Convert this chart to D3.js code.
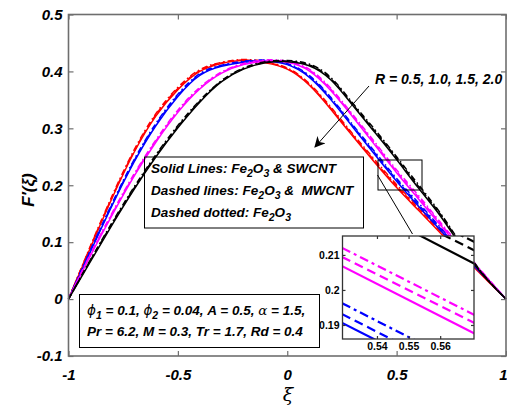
<!DOCTYPE html>
<html><head><meta charset="utf-8">
<script src="https://cdn.jsdelivr.net/npm/d3@7"></script>
<style>
body{margin:0;background:#fff}
svg{display:block}
text{font-family:"Liberation Sans",Arial,sans-serif;white-space:pre}
</style>
</head><body>
<svg id="c" width="507" height="408"></svg>
<script>
// ---------- data ----------
const xi = [-1,-0.9,-0.8,-0.7,-0.6,-0.5,-0.4,-0.3,-0.2,-0.1,0,0.1,0.2,0.3,0.4,0.5,0.6,0.7,0.8,0.9,1];

const redSolid   = [0,0.090,0.178,0.258,0.322,0.368,0.400,0.414,0.419,0.415,0.404,0.376,0.333,0.286,0.240,0.196,0.156,0.116,0.077,0.038,0];
const redDashed  = [0,0.092,0.180,0.260,0.324,0.370,0.4015,0.415,0.420,0.416,0.405,0.3775,0.335,0.288,0.2425,0.1985,0.159,0.119,0.079,0.039,0];
const redDashDot = [0,0.093,0.182,0.262,0.326,0.372,0.403,0.416,0.421,0.417,0.406,0.379,0.337,0.290,0.245,0.201,0.162,0.121,0.081,0.040,0];

const blueSolid   = [0,0.083,0.165,0.241,0.305,0.356,0.393,0.409,0.416,0.418,0.412,0.390,0.350,0.302,0.254,0.207,0.163,0.121,0.080,0.040,0];
const blueDashed  = [0,0.085,0.167,0.243,0.307,0.358,0.3945,0.410,0.417,0.419,0.413,0.3915,0.352,0.304,0.2565,0.2095,0.166,0.124,0.082,0.041,0];
const blueDashDot = [0,0.086,0.169,0.245,0.309,0.360,0.396,0.411,0.418,0.420,0.414,0.393,0.354,0.306,0.259,0.212,0.169,0.126,0.084,0.042,0];

const magSolid   = [0,0.076,0.148,0.216,0.276,0.328,0.369,0.397,0.412,0.418,0.416,0.401,0.366,0.320,0.271,0.222,0.176,0.130,0.085,0.042,0];
const magDashed  = [0,0.078,0.150,0.218,0.278,0.330,0.3705,0.398,0.413,0.419,0.417,0.4025,0.368,0.322,0.2735,0.2245,0.179,0.133,0.087,0.043,0];
const magDashDot = [0,0.079,0.152,0.220,0.280,0.332,0.372,0.399,0.414,0.420,0.418,0.404,0.370,0.324,0.276,0.227,0.182,0.135,0.089,0.044,0];

const blackSolid   = [0,0.066,0.131,0.193,0.250,0.301,0.346,0.382,0.404,0.415,0.417,0.410,0.385,0.340,0.293,0.245,0.195,0.146,0.090,0.040,0];
const blackDashed  = [0,0.068,0.133,0.195,0.252,0.303,0.3475,0.383,0.405,0.416,0.418,0.4115,0.387,0.342,0.2955,0.2475,0.198,0.149,0.092,0.041,0];
const blackDashDot = [0,0.069,0.135,0.197,0.254,0.305,0.349,0.384,0.406,0.417,0.419,0.413,0.389,0.344,0.298,0.250,0.201,0.151,0.094,0.042,0];

const xTicks = [-1,-0.5,0,0.5,1];
const yTicks = [-0.1,0,0.1,0.2,0.3,0.4,0.5];

// inset (zoom) data
const insetXi = [0.529,0.571];
const insetMagSolid   = [0.2068,0.1875];
const insetMagDashed  = [0.2094,0.1905];
const insetMagDashDot = [0.2120,0.1928];
const insetBlueSolid   = [0.1906,0.1713];
const insetBlueDashed  = [0.1931,0.1738];
const insetBlueDashDot = [0.1962,0.1769];
const insetBlackSolid   = [0.2270,0.2074];
const insetBlackDashed  = [0.2300,0.2112];
const insetBlackDashDot = [0.2328,0.2136];
const insetXTicks = [0.54,0.55,0.56];
const insetYTicks = [0.19,0.2,0.21];

// ---------- drawing ----------
const svg = d3.select("#c");
const L=68.5, R=506, T=14.5, B=356;
const x = d3.scaleLinear().domain([-1,1]).range([L,R]);
const y = d3.scaleLinear().domain([-0.1,0.5]).range([B,T]);
const fmt = d => String(d);

const dashes = {solid:null, dashed:"6,3", dashdot:"6,3,1.5,3"};
const mainSeries = [
  {c:"#ff0000", s:"dashdot", v:redDashDot},{c:"#ff0000", s:"dashed", v:redDashed},{c:"#ff0000", s:"solid", v:redSolid},
  {c:"#0000ff", s:"dashdot", v:blueDashDot},{c:"#0000ff", s:"dashed", v:blueDashed},{c:"#0000ff", s:"solid", v:blueSolid},
  {c:"#ff00ff", s:"dashdot", v:magDashDot},{c:"#ff00ff", s:"dashed", v:magDashed},{c:"#ff00ff", s:"solid", v:magSolid},
  {c:"#000000", s:"dashdot", v:blackDashDot},{c:"#000000", s:"dashed", v:blackDashed},{c:"#000000", s:"solid", v:blackSolid}
];
const line = d3.line().x(d=>x(d[0])).y(d=>y(d[1])).curve(d3.curveNatural);
const gCurves = svg.append("g");
mainSeries.forEach(s=>{
  gCurves.append("path").attr("d", line(xi.map((v,i)=>[v,s.v[i]])))
    .attr("fill","none").attr("stroke",s.c).attr("stroke-width",1.5)
    .attr("stroke-dasharray",dashes[s.s]);
});

// axes
const axisColor="#6e6e6e";
const fontTick = "bold italic 15px 'Liberation Sans', Arial, sans-serif";
function styleAxis(g){ g.selectAll(".domain").remove(); g.selectAll(".tick line").attr("stroke",axisColor).attr("stroke-width",1.2); }
const gxB = svg.append("g").attr("transform",`translate(0,${B})`).call(d3.axisBottom(x).tickValues(xTicks).tickSize(-5).tickPadding(13).tickFormat(fmt));
styleAxis(gxB);
gxB.selectAll("text").style("font",fontTick).attr("fill","#000");
gxB.selectAll(".tick").filter(d=>d===1).select("text").attr("text-anchor","end").attr("dx",1);
const gxT = svg.append("g").attr("transform",`translate(0,${T})`).call(d3.axisTop(x).tickValues(xTicks).tickSize(-5).tickFormat(""));
styleAxis(gxT);
const gyL = svg.append("g").attr("transform",`translate(${L},0)`).call(d3.axisLeft(y).tickValues(yTicks).tickSize(-5).tickPadding(6).tickFormat(fmt));
styleAxis(gyL);
gyL.selectAll("text").style("font",fontTick).attr("fill","#000");
const gyR = svg.append("g").attr("transform",`translate(${R},0)`).call(d3.axisRight(y).tickValues(yTicks).tickSize(-5).tickFormat(""));
styleAxis(gyR);
svg.append("rect").attr("x",L).attr("y",T).attr("width",R-L).attr("height",B-T)
  .attr("fill","none").attr("stroke",axisColor).attr("stroke-width",1.6);

// axis labels
svg.append("text").attr("x",288).attr("y",401).attr("text-anchor","middle")
  .style("font","italic 19px 'DejaVu Serif', serif").text("ξ");
svg.append("text").attr("transform","translate(34,190) rotate(-90)").attr("text-anchor","middle")
  .style("font","bold italic 17px 'Liberation Sans', Arial, sans-serif").text("F′(ξ)");

// legend box 1
svg.append("rect").attr("x",144.5).attr("y",157).attr("width",219).attr("height",71)
  .attr("fill","none").attr("stroke","#000").attr("stroke-width",1);
const fLeg = "bold italic 13.5px 'Liberation Sans', Arial, sans-serif";
function feLine(yb, parts){
  const t = svg.append("text").attr("x",151).attr("y",yb).style("font",fLeg);
  parts.forEach(p=>{
    const ts = t.append("tspan").text(p[0]);
    if(p[1]==="sub") ts.attr("baseline-shift","-4").style("font-size","10.5px");
  });
}
feLine(173,[["Solid Lines: Fe"],["2","sub"],["O"],["3","sub"],[" & SWCNT"]]);
feLine(195,[["Dashed lines: Fe"],["2","sub"],["O"],["3","sub"],[" &  MWCNT"]]);
feLine(217,[["Dashed dotted: Fe"],["2","sub"],["O"],["3","sub"]]);

// parameter box
svg.append("rect").attr("x",79.5).attr("y",294.5).attr("width",240).attr("height",53)
  .attr("fill","none").attr("stroke","#000").attr("stroke-width",1);
const fPar = "bold italic 13.5px 'Liberation Sans', Arial, sans-serif";
{
  const t = svg.append("text").attr("x",87).attr("y",315).style("font",fPar);
  t.append("tspan").text("ϕ").style("font-family","'DejaVu Sans'").style("font-weight","normal");
  t.append("tspan").text("1").attr("baseline-shift","-4").style("font-size","10.5px");
  t.append("tspan").text(" = 0.1, ");
  t.append("tspan").text("ϕ").style("font-family","'DejaVu Sans'").style("font-weight","normal");
  t.append("tspan").text("2").attr("baseline-shift","-4").style("font-size","10.5px");
  t.append("tspan").text(" = 0.04, A = 0.5, ");
  t.append("tspan").text("α").style("font-family","'DejaVu Serif'").style("font-weight","normal");
  t.append("tspan").text(" = 1.5,");
}
svg.append("text").attr("x",87).attr("y",336).style("font",fPar).text("Pr = 6.2, M = 0.3, Tr = 1.7, Rd = 0.4");

// R annotation with arrow
svg.append("text").attr("x",375).attr("y",84).style("font","bold italic 14px 'Liberation Sans', Arial, sans-serif")
  .text("R = 0.5, 1.0, 1.5, 2.0");
svg.append("defs").append("marker").attr("id","ah").attr("viewBox","0 0 10 10").attr("refX",9).attr("refY",5)
  .attr("markerWidth",13).attr("markerHeight",11).attr("markerUnits","userSpaceOnUse").attr("orient","auto")
  .append("path").attr("d","M0,0 L10,5 L0,10 L3,5 Z").attr("fill","#000");
svg.append("line").attr("x1",369).attr("y1",86).attr("x2",315).attr("y2",147)
  .attr("stroke","#000").attr("stroke-width",1).attr("marker-end","url(#ah)");

// zoom rectangle and connector
svg.append("rect").attr("x",378).attr("y",160).attr("width",44).attr("height",30)
  .attr("fill","none").attr("stroke","#000").attr("stroke-width",1);
svg.append("line").attr("x1",377.5).attr("y1",175).attr("x2",412.5).attr("y2",234)
  .attr("stroke","#000").attr("stroke-width",1);

// inset
const IL=342.5, IR=474, IT=236, IB=339;
const ix = d3.scaleLinear().domain([0.5291,0.5707]).range([IL,IR]);
const iy = d3.scaleLinear().domain([0.186,0.2154]).range([IB,IT]);
svg.append("rect").attr("x",IL).attr("y",IT).attr("width",IR-IL).attr("height",IB-IT).attr("fill","#fff");
svg.append("defs").append("clipPath").attr("id","ic").append("rect")
  .attr("x",IL).attr("y",IT).attr("width",IR-IL).attr("height",IB-IT);
const gIn = svg.append("g").attr("clip-path","url(#ic)");
const iline = d3.line().x(d=>ix(d[0])).y(d=>iy(d[1]));
const insetSeries = [
  {c:"#ff00ff",s:"solid",v:insetMagSolid},{c:"#ff00ff",s:"dashed",v:insetMagDashed},{c:"#ff00ff",s:"dashdot",v:insetMagDashDot},
  {c:"#0000ff",s:"solid",v:insetBlueSolid},{c:"#0000ff",s:"dashed",v:insetBlueDashed},{c:"#0000ff",s:"dashdot",v:insetBlueDashDot},
  {c:"#000000",s:"solid",v:insetBlackSolid},{c:"#000000",s:"dashed",v:insetBlackDashed},{c:"#000000",s:"dashdot",v:insetBlackDashDot}
];
const iDash = {solid:null, dashed:"9,5", dashdot:"9,4,3,4"};
insetSeries.forEach(s=>{
  gIn.append("path").attr("d",iline(insetXi.map((v,i)=>[v,s.v[i]])))
    .attr("fill","none").attr("stroke",s.c).attr("stroke-width",2.2).attr("stroke-dasharray",iDash[s.s]);
});
const fIn = "bold 10.5px 'Liberation Sans', Arial, sans-serif";
const giB = svg.append("g").attr("transform",`translate(0,${IB})`).call(d3.axisBottom(ix).tickValues(insetXTicks).tickSize(-3).tickPadding(4).tickFormat(fmt));
styleAxis(giB); giB.selectAll(".tick line").attr("stroke","#333");
giB.selectAll("text").style("font",fIn).attr("fill","#000");
const giT = svg.append("g").attr("transform",`translate(0,${IT})`).call(d3.axisTop(ix).tickValues(insetXTicks).tickSize(-3).tickFormat(""));
styleAxis(giT); giT.selectAll(".tick line").attr("stroke","#333");
const giL = svg.append("g").attr("transform",`translate(${IL},0)`).call(d3.axisLeft(iy).tickValues(insetYTicks).tickSize(-3).tickPadding(3).tickFormat(fmt));
styleAxis(giL); giL.selectAll(".tick line").attr("stroke","#333");
giL.selectAll("text").style("font",fIn).attr("fill","#000");
const giR = svg.append("g").attr("transform",`translate(${IR},0)`).call(d3.axisRight(iy).tickValues(insetYTicks).tickSize(-3).tickFormat(""));
styleAxis(giR); giR.selectAll(".tick line").attr("stroke","#333");
svg.append("rect").attr("x",IL).attr("y",IT).attr("width",IR-IL).attr("height",IB-IT)
  .attr("fill","none").attr("stroke","#333").attr("stroke-width",1.3);
</script>
</body></html>
